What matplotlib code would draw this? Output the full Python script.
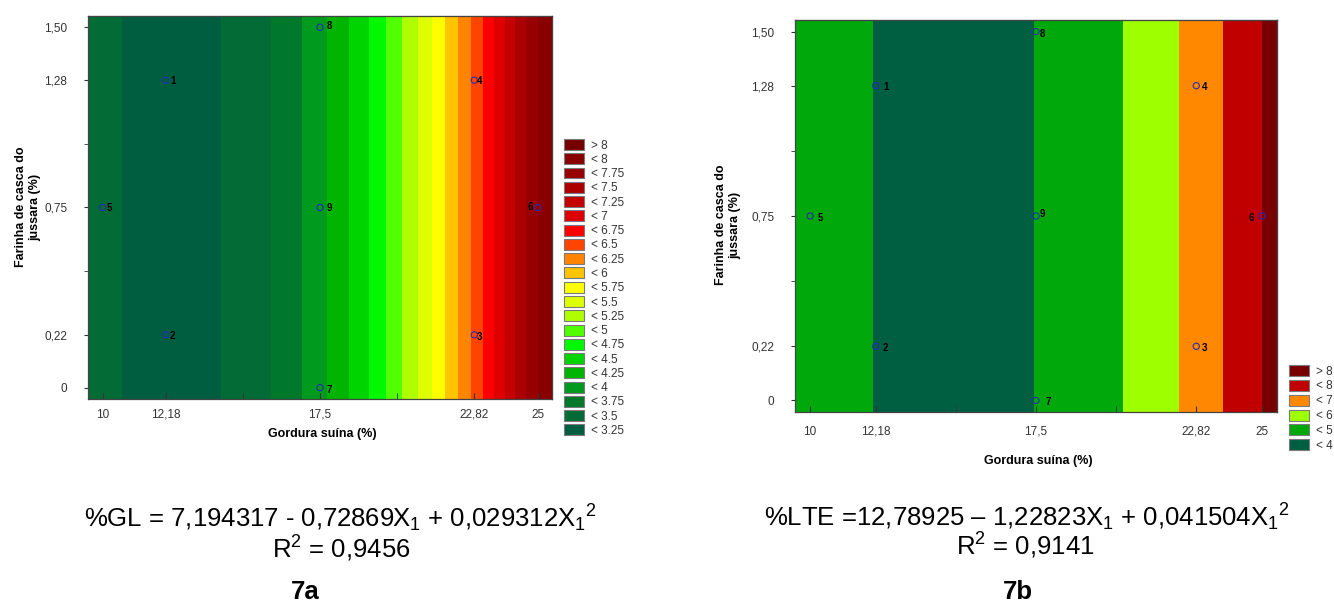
import numpy as np
import matplotlib.pyplot as plt
from matplotlib.colors import ListedColormap, BoundaryNorm
from matplotlib.patches import Patch

plt.rcParams["font.family"] = ["Liberation Sans", "DejaVu Sans"]
plt.rcParams["mathtext.fontset"] = "custom"
plt.rcParams["mathtext.rm"] = "Liberation Sans"
plt.rcParams["mathtext.it"] = "Liberation Sans:italic"

# pontos do planejamento
pt_x = [12.18, 12.18, 22.82, 22.82, 10, 25, 17.5, 17.5, 17.5]
pt_y = [1.28, 0.22, 0.22, 1.28, 0.75, 0.75, 0, 1.50, 0.75]
pt_lab = ["1", "2", "3", "4", "5", "6", "7", "8", "9"]

x_ticks = [10, 12.18, 17.5, 22.82, 25]
x_ticklabels = ["10", "12,18", "17,5", "22,82", "25"]
y_ticks = [0, 0.22, 0.75, 1.28, 1.50]
y_ticklabels = ["0", "0,22", "0,75", "1,28", "1,50"]

# 7a - %GL
gl_levels = ["< 3.25", "< 3.5", "< 3.75", "< 4", "< 4.25", "< 4.5", "< 4.75",
             "< 5", "< 5.25", "< 5.5", "< 5.75", "< 6", "< 6.25", "< 6.5",
             "< 6.75", "< 7", "< 7.25", "< 7.5", "< 7.75", "< 8", "> 8"]
gl_colors = ["#005e40", "#036b36", "#00782c", "#009a1e", "#00b400", "#00d400",
             "#00f800", "#50ff00", "#b0ff00", "#deff00", "#ffff00", "#ffc400",
             "#ff8400", "#ff4400", "#ff0000", "#de0000", "#c40000", "#ac0000",
             "#980000", "#880000", "#740000"]
gl_edges = [9.5, 10.68, 14.10, 15.82, 16.89, 17.75, 18.51, 19.20, 19.79, 20.34,
            20.89, 21.37, 21.82, 22.27, 22.72, 23.13, 23.51, 23.89, 24.24,
            24.62, 25.00, 25.5]
gl_bands = ["< 3.5", "< 3.25", "< 3.5", "< 3.75", "< 4", "< 4.25", "< 4.5",
            "< 4.75", "< 5", "< 5.25", "< 5.5", "< 5.75", "< 6", "< 6.25",
            "< 6.5", "< 6.75", "< 7", "< 7.25", "< 7.5", "< 7.75", "< 8"]

# 7b - %LTE
lte_levels = ["< 4", "< 5", "< 6", "< 7", "< 8", "> 8"]
lte_colors = ["#005f41", "#00a80c", "#9eff00", "#ff8800", "#c00000", "#780000"]
lte_edges = [9.5, 12.09, 17.43, 20.39, 22.25, 23.71, 25.0, 25.5]
lte_bands = ["< 5", "< 4", "< 5", "< 6", "< 7", "< 8", "> 8"]

# deslocamento dos rotulos dos pontos (pixels)
off_a = [(7, -1), (7, -1), (5, -2), (5, -1), (7, -1), (-7, 0), (9, -2), (9, 1), (9, -1)]
off_b = [(10, -1), (10, -2), (8, -2), (8, -1), (10, -2), (-11, -2), (12, -2), (6, -2), (6, 2)]


def painel(ax, edges, bands, levels, colors, offs, pad):
    ax.set_xlim(9.5, 25.5)
    ax.set_ylim(-0.047, 1.547)
    idx = [levels.index(b) for b in bands]
    cmap = ListedColormap(colors)
    norm = BoundaryNorm(np.arange(len(levels) + 1) - 0.5, len(levels))
    ax.pcolormesh(edges, ax.get_ylim(), [idx], cmap=cmap, norm=norm, shading="flat")
    ax.scatter(pt_x, pt_y, s=20, facecolors="none", edgecolors="#2b2bb0", lw=0.8, zorder=3)
    for x, y, t, o in zip(pt_x, pt_y, pt_lab, offs):
        ax.annotate(t, (x, y), xytext=o, textcoords="offset pixels", fontsize=7,
                    fontweight="bold", ha="center", va="center", zorder=4)

    ax.set_xticks(x_ticks)
    ax.set_xticklabels(x_ticklabels)
    ax.set_xticks([14.84, 20.16], minor=True)
    ax.set_yticks(y_ticks)
    ax.set_yticklabels(y_ticklabels)
    ax.set_yticks([0.485, 1.015], minor=True)
    ax.tick_params(axis="x", which="both", direction="in", length=4, pad=pad,
                   labelsize=8.5, labelcolor="#333333", color="#333333")
    ax.tick_params(axis="y", which="both", direction="out", length=3, pad=12,
                   labelsize=8.5, labelcolor="#333333", color="#333333")
    for s in ax.spines.values():
        s.set_color("#444444")
        s.set_linewidth(0.9)

    sy = ax.secondary_yaxis("right")
    sy.set_yticks([0.15, 0.35, 0.55, 0.75, 0.95, 1.15, 1.35])
    sy.tick_params(direction="in", length=4, labelright=False, color="#333333")
    sy.spines["right"].set_color("#444444")
    sx = ax.secondary_xaxis("top")
    sx.set_xticks([11.5, 13.5, 15.5, 17.5, 19.5, 21.5, 23.5])
    sx.tick_params(direction="in", length=4, labeltop=False, color="#333333")
    sx.spines["top"].set_color("#444444")


fig = plt.figure(figsize=(13.34, 6.05), dpi=100)
W, H = 1334, 605

ax1 = fig.add_axes([88 / W, 1 - 399 / H, 464 / W, 383 / H])
painel(ax1, gl_edges, gl_bands, gl_levels, gl_colors, off_a, 7)
ax2 = fig.add_axes([795 / W, 1 - 412 / H, 482 / W, 392 / H])
painel(ax2, lte_edges, lte_bands, lte_levels, lte_colors, off_b, 10)

ylab = "Farinha de casca do\njussara (%)"
fig.text(28 / W, 1 - 207 / H, ylab, rotation=90, ha="center", va="center",
         fontsize=9, fontweight="bold", multialignment="center")
fig.text(728 / W, 1 - 225 / H, ylab, rotation=90, ha="center", va="center",
         fontsize=9, fontweight="bold", multialignment="center")
fig.text(322 / W, 1 - 434 / H, "Gordura suína (%)", ha="center", va="center",
         fontsize=9, fontweight="bold")
fig.text(1038 / W, 1 - 461 / H, "Gordura suína (%)", ha="center", va="center",
         fontsize=9, fontweight="bold")

# legendas
for levels, colors, pos, ls in [(gl_levels, gl_colors, (564, 139), 0.15),
                                (lte_levels, lte_colors, (1289, 365), 0.2)]:
    handles = [Patch(facecolor=c, edgecolor="#7a7a7a", lw=0.8, label=l)
               for l, c in zip(levels[::-1], colors[::-1])]
    leg = fig.legend(handles=handles, loc="upper left",
                     bbox_to_anchor=(pos[0] / W, 1 - pos[1] / H), frameon=False,
                     fontsize=8.5, handlelength=1.7, handleheight=1.05,
                     labelspacing=ls, handletextpad=0.55, borderpad=0,
                     borderaxespad=0)
    for t in leg.get_texts():
        t.set_color("#333333")

# equacoes
fig.text(340 / W, 1 - 518 / H,
         "%GL = 7,194317 - 0,72869X$_1$ + 0,029312X$_1$$^2$",
         ha="center", va="center", fontsize=18.5)
fig.text(341 / W, 1 - 549 / H, "R$^2$ = 0,9456", ha="center", va="center", fontsize=18.5)
fig.text(305 / W, 1 - 592 / H, "7a", ha="center", va="center", fontsize=18.5,
         fontweight="bold")
fig.text(1027 / W, 1 - 517 / H,
         "%LTE =12,78925 – 1,22823X$_1$ + 0,041504X$_1$$^2$",
         ha="center", va="center", fontsize=18.5)
fig.text(1025 / W, 1 - 546 / H, "R$^2$ = 0,9141", ha="center", va="center", fontsize=18.5)
fig.text(1018 / W, 1 - 592 / H, "7b", ha="center", va="center", fontsize=18.5,
         fontweight="bold")

fig.savefig("out.png", dpi=100)
